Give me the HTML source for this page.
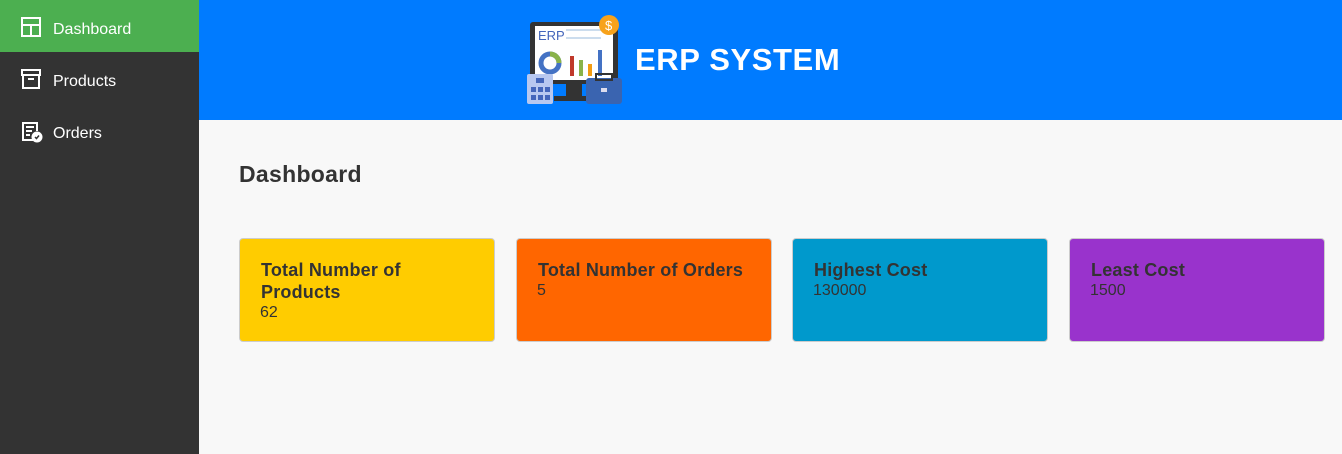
<!DOCTYPE html>
<html><head><meta charset="utf-8"><style>
*{margin:0;padding:0;box-sizing:border-box}
body{width:1342px;height:454px;overflow:hidden;background:#f8f8f8;font-family:"Liberation Sans",Arial,sans-serif;position:relative}
.side{position:absolute;left:0;top:0;width:199px;height:454px;background:#333}
.item{position:absolute;left:0;width:199px;height:52px;color:#fff;font-size:16px;line-height:52px;padding-left:53px;padding-top:4px}
.item svg{position:absolute;left:21px;top:17px}
.head{position:absolute;left:199px;top:0;right:0;height:120px;background:#007bff}
.title{position:absolute;left:635px;top:42px;color:#fff;font-weight:bold;font-size:31px;letter-spacing:0.6px}
h2{position:absolute;left:239px;top:161px;font-size:23px;color:#333;letter-spacing:0.3px}
.card{position:absolute;top:238px;height:104px;width:256px;border:1px solid #ccc;border-radius:4px;color:#333;padding:20px 0 0 20px}
.card b{display:block;font-size:18px;line-height:22px;margin-left:1px;letter-spacing:0.2px;white-space:nowrap}
.card span{display:block;font-size:16px;line-height:18px;margin-top:1px}
</style></head><body>
<div class="side">
<div class="item" style="top:0;background:#4caf50"><svg width="20" height="20" viewBox="0 0 20 20" fill="none" stroke="#fff" stroke-width="2"><rect x="1" y="1" width="18" height="18"/><line x1="1" y1="8" x2="19" y2="8"/><line x1="10" y1="8" x2="10" y2="19"/></svg>Dashboard</div>
<div class="item" style="top:52px"><svg width="20" height="20" viewBox="0 0 20 20" fill="none" stroke="#fff" stroke-width="2"><rect x="1" y="1" width="18" height="5"/><rect x="2" y="6" width="16" height="13"/><line x1="7" y1="10" x2="13" y2="10"/></svg>Products</div>
<div class="item" style="top:104px"><svg width="22" height="22" viewBox="0 0 22 22" fill="none" stroke="#fff" stroke-width="2"><path d="M12 19H2V2h14v8"/><line x1="5" y1="6" x2="13" y2="6"/><line x1="5" y1="10" x2="11" y2="10"/><line x1="5" y1="14" x2="9" y2="14"/><circle cx="16" cy="16" r="4.5" fill="#fff"/><path d="M14 16l1.5 1.5 2.5-3" stroke="#333" stroke-width="1.5"/></svg>Orders</div>
</div>
<div class="head"></div>
<svg style="position:absolute;left:526px;top:14px" width="98" height="92" viewBox="0 0 98 92">
<rect x="4" y="8" width="88" height="62" rx="3" fill="#333"/>
<rect x="9" y="12" width="78" height="54" fill="#fff"/>
<text x="12" y="26" font-family="Liberation Sans" font-size="13" fill="#4466bb">ERP</text>
<line x1="40" y1="16" x2="75" y2="16" stroke="#cde" stroke-width="2"/>
<line x1="40" y1="24" x2="75" y2="24" stroke="#cde" stroke-width="2"/>
<circle cx="24" cy="49" r="9" fill="none" stroke="#4472c4" stroke-width="5"/>
<path d="M24 40a9 9 0 0 1 9 9" fill="none" stroke="#8ab34a" stroke-width="5"/>
<rect x="44" y="42" width="4" height="20" fill="#c0392b"/><rect x="53" y="46" width="4" height="16" fill="#8ab34a"/><rect x="62" y="50" width="4" height="12" fill="#f39c12"/><rect x="72" y="36" width="4" height="26" fill="#4472c4"/>
<rect x="40" y="70" width="16" height="12" fill="#333"/><rect x="28" y="82" width="40" height="5" fill="#333"/>
<rect x="1" y="60" width="26" height="30" rx="2" fill="#b8c8f0"/>
<rect x="10" y="64" width="8" height="5" fill="#4466bb"/><rect x="5" y="73" width="5" height="5" fill="#4466bb"/><rect x="12" y="73" width="5" height="5" fill="#4466bb"/><rect x="19" y="73" width="5" height="5" fill="#4466bb"/><rect x="5" y="81" width="5" height="5" fill="#4466bb"/><rect x="12" y="81" width="5" height="5" fill="#4466bb"/><rect x="19" y="81" width="5" height="5" fill="#4466bb"/>
<rect x="60" y="64" width="36" height="26" rx="3" fill="#3a64b0"/><rect x="70" y="60" width="16" height="6" fill="none" stroke="#333" stroke-width="2"/><rect x="75" y="74" width="6" height="4" fill="#dde"/>
<circle cx="83" cy="11" r="10" fill="#f7a21b"/><text x="79" y="16" font-family="Liberation Sans" font-size="13" fill="#fff">$</text>
</svg>
<div class="title">ERP SYSTEM</div>
<h2>Dashboard</h2>
<div class="card" style="left:239px;background:#ffcc00"><b>Total Number of<br>Products</b><span>62</span></div>
<div class="card" style="left:516px;background:#ff6600"><b>Total Number of Orders</b><span>5</span></div>
<div class="card" style="left:792px;background:#0099cc"><b>Highest Cost</b><span>130000</span></div>
<div class="card" style="left:1069px;background:#9933cc"><b>Least Cost</b><span>1500</span></div>
</body></html>
